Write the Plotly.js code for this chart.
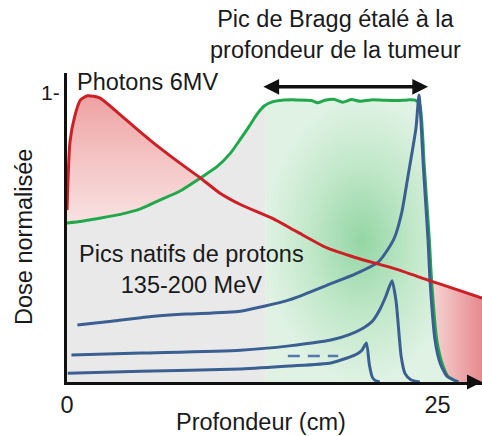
<!DOCTYPE html>
<html>
<head>
<meta charset="utf-8">
<script src="https://cdn.plot.ly/plotly-3.0.1.min.js"></script>
<style>html,body{margin:0;padding:0;background:#fff;}#chart{width:482px;height:436px;}</style>
</head>
<body>
<div id="chart"></div>
<script>
// ---- Data ----
const xTickVals = [0, 25];
const xTickText = ['0', '25'];
const yTickVals = [1];
const yTickText = ['1-'];

// Photons 6MV depth-dose curve
const redX = [0, 0.2, 0.5, 0.9, 1.4, 2.2, 3.6, 5.6, 7.6, 9.0, 10.3, 11.7, 13.9, 15.5, 17.5, 19.5, 22.1, 24.5, 26.0, 28.0];
const redY = [0.595, 0.83, 0.915, 0.975, 0.99, 0.983, 0.924, 0.837, 0.758, 0.706, 0.654, 0.614, 0.565, 0.52, 0.465, 0.43, 0.392, 0.35, 0.325, 0.29];

// Spread-out Bragg peak
const greenX = [0, 1, 2, 3.6, 5, 6.3, 7.6, 9.0, 10.1, 11.0, 11.7, 12.3, 12.8, 13.3, 13.9, 14.5, 15.5, 16.5, 16.9, 17.4, 18.0, 18.6, 19.2, 19.8, 20.5, 21.3, 22.2, 23.0, 23.5, 23.8, 24.1, 24.45, 24.6, 24.95, 25.3, 25.7, 26.4];
const greenY = [0.55, 0.556, 0.565, 0.58, 0.6, 0.63, 0.66, 0.706, 0.744, 0.79, 0.84, 0.885, 0.925, 0.955, 0.97, 0.975, 0.976, 0.974, 0.966, 0.975, 0.978, 0.968, 0.977, 0.971, 0.976, 0.975, 0.974, 0.976, 0.975, 0.96, 0.75, 0.49, 0.35, 0.145, 0.066, 0.02, 0];

// Native proton Bragg peaks (135-200 MeV)
const blue1X = [0.7, 3, 5.4, 8, 11.7, 15.0, 17.8, 19.5, 21.0, 21.6, 22.1, 22.6, 23.0, 23.3, 23.55, 23.75, 24.05, 24.36, 24.49, 24.83, 25.17, 25.64, 26.4];
const blue1Y = [0.197, 0.21, 0.225, 0.235, 0.245, 0.284, 0.34, 0.375, 0.415, 0.455, 0.5, 0.59, 0.71, 0.80, 0.88, 0.993, 0.74, 0.49, 0.353, 0.145, 0.066, 0.02, 0];
const blue2X = [0.3, 5, 11.7, 15.0, 17.8, 19.0, 20.0, 20.6, 21.1, 21.5, 21.93, 22.2, 22.55, 22.8, 23.2, 23.8];
const blue2Y = [0.093, 0.1, 0.11, 0.125, 0.145, 0.163, 0.187, 0.21, 0.25, 0.295, 0.35, 0.28, 0.087, 0.03, 0.008, 0];
const blue3X = [0.05, 5, 11.7, 15.0, 17.8, 18.9, 19.5, 19.9, 20.2, 20.4, 20.6, 20.8, 21.1];
const blue3Y = [0.03, 0.037, 0.045, 0.055, 0.066, 0.083, 0.095, 0.11, 0.135, 0.06, 0.017, 0.005, 0];
const dashX = [14.9, 18.3];
const dashY = [0.09, 0.09];

// Region limits
const greyEndX = 13.4;          // end of the grey (healthy tissue) zone
const arrowX = [13.15, 24.36];  // spread-out Bragg peak extent
const arrowY = 1.021;

// ---- helpers ----
function interp(xs, ys, x) {
  if (x <= xs[0]) return ys[0];
  for (let i = 1; i < xs.length; i++) {
    if (x <= xs[i]) {
      const t = (x - xs[i-1]) / (xs[i] - xs[i-1]);
      return ys[i-1] + t * (ys[i] - ys[i-1]);
    }
  }
  return ys[ys.length-1];
}
function crossing(x0, x1) {
  let prev = interp(redX, redY, x0) - interp(greenX, greenY, x0);
  for (let x = x0 + 0.005; x <= x1; x += 0.005) {
    const d = interp(redX, redY, x) - interp(greenX, greenY, x);
    if ((d > 0) !== (prev > 0)) return [x, interp(redX, redY, x)];
    prev = d;
  }
  return [x1, interp(redX, redY, x1)];
}
function seg(xs, ys, lo, hi) {
  const ox = [], oy = [];
  xs.forEach((x, i) => { if (x > lo && x < hi) { ox.push(x); oy.push(ys[i]); } });
  return [ox, oy];
}

const c1 = crossing(5, 12);
const c2 = crossing(24, 26.5);
const gSplit = interp(greenX, greenY, greyEndX);

// grey fill
let [gx1, gy1] = seg(greenX, greenY, -1, greyEndX);
gx1 = gx1.concat([greyEndX]); gy1 = gy1.concat([gSplit]);
// green fill
let [gx2, gy2] = seg(greenX, greenY, greyEndX, 99);
gx2 = [greyEndX].concat(gx2); gy2 = [gSplit].concat(gy2);
// red left fill (between red and green)
let [rlLx, rlLy] = seg(greenX, greenY, -1, c1[0]);
rlLx = rlLx.concat([c1[0]]); rlLy = rlLy.concat([c1[1]]);
let [rlUx, rlUy] = seg(redX, redY, -1, c1[0]);
rlUx = rlUx.concat([c1[0]]); rlUy = rlUy.concat([c1[1]]);
// red right fill
let [rrLx, rrLy] = seg(greenX, greenY, c2[0], 99);
rrLx = [c2[0]].concat(rrLx, [redX[redX.length-1]]); rrLy = [c2[1]].concat(rrLy, [0]);
let [rrUx, rrUy] = seg(redX, redY, c2[0], 99);
rrUx = [c2[0]].concat(rrUx); rrUy = [c2[1]].concat(rrUy);
if (rrUx[rrUx.length-1] < redX[redX.length-1]) { rrUx.push(redX[redX.length-1]); rrUy.push(redY[redY.length-1]); }

const sp = {shape: 'spline', smoothing: 0.6};
const traces = [
  {x: gx1, y: gy1, mode: 'lines', line: Object.assign({width: 0}, sp), fill: 'tozeroy', fillcolor: '#e9e9e9', hoverinfo: 'skip'},
  {x: gx2, y: gy2, mode: 'lines', line: Object.assign({width: 0}, sp), fill: 'tozeroy',
   fillgradient: {type: 'radial', colorscale: [[0, '#94d6a4'], [0.55, '#c2e8ca'], [1, '#dff2e3']]}, hoverinfo: 'skip'},
  {x: rlLx, y: rlLy, mode: 'lines', line: Object.assign({width: 0}, sp), hoverinfo: 'skip'},
  {x: rlUx, y: rlUy, mode: 'lines', line: Object.assign({width: 0}, sp), fill: 'tonexty',
   fillgradient: {type: 'vertical', colorscale: [[0, '#f9e2e2'], [0.5, '#f4c4c4'], [1, '#eda2a2']]}, hoverinfo: 'skip'},
  {x: rrLx, y: rrLy, mode: 'lines', line: Object.assign({width: 0}, sp), hoverinfo: 'skip'},
  {x: rrUx, y: rrUy, mode: 'lines', line: Object.assign({width: 0}, sp), fill: 'tonexty',
   fillgradient: {type: 'horizontal', colorscale: [[0, '#f6d4d4'], [1, '#e68a8d']]}, hoverinfo: 'skip'},
  {x: greenX, y: greenY, mode: 'lines', line: Object.assign({color: '#22a84c', width: 3}, sp), name: 'SOBP'},
  {x: dashX, y: dashY, mode: 'lines', line: {color: '#5578b0', width: 2.5, dash: '12px,8px'}, name: '...'},
  {x: blue3X, y: blue3Y, mode: 'lines', line: Object.assign({color: '#3c5f92', width: 3}, sp), name: 'p1'},
  {x: blue2X, y: blue2Y, mode: 'lines', line: Object.assign({color: '#3c5f92', width: 3}, sp), name: 'p2'},
  {x: blue1X, y: blue1Y, mode: 'lines', line: Object.assign({color: '#3c5f92', width: 3}, sp), name: 'p3'},
  {x: redX, y: redY, mode: 'lines', line: Object.assign({color: '#cc1f26', width: 3}, sp), name: 'Photons 6MV'}
];

const F = 'Liberation Sans, Arial, sans-serif';
const FS = 23.5;
const layout = {
  width: 482, height: 436,
  margin: {l: 67, r: 0, t: 73, b: 54, pad: 0},
  paper_bgcolor: '#ffffff', plot_bgcolor: '#ffffff',
  showlegend: false,
  font: {family: F, color: '#1a1a1a', size: FS},
  xaxis: {range: [0, 28], showline: true, linecolor: '#111', linewidth: 3, showgrid: false, zeroline: false,
          tickvals: xTickVals, ticktext: xTickText, ticks: '', tickfont: {size: FS, color: '#1a1a1a'}, fixedrange: true},
  yaxis: {range: [0, 1.069], showline: true, linecolor: '#111', linewidth: 3, showgrid: false, zeroline: false,
          tickvals: yTickVals, ticktext: yTickText, ticks: '', tickfont: {size: 21, color: '#1a1a1a'}, fixedrange: true},
  annotations: [
    {xref: 'x', yref: 'y', x: arrowX[1], y: arrowY, axref: 'x', ayref: 'y', ax: arrowX[0], ay: arrowY,
     text: '', showarrow: true, arrowside: 'end+start', arrowhead: 2, startarrowhead: 2, arrowsize: 0.9, startarrowsize: 0.9,
     arrowwidth: 3.5, arrowcolor: '#111', standoff: 0, startstandoff: 0},
    {xref: 'x', yref: 'y', x: 28, y: 0, axref: 'x', ayref: 'y', ax: 27, ay: 0, text: '', showarrow: true,
     arrowhead: 2, arrowsize: 1, arrowwidth: 3, arrowcolor: '#111', standoff: 0},
    {xref: 'paper', yref: 'paper', x: 0.646, y: 1.123, xanchor: 'center', yanchor: 'middle', showarrow: false,
     text: 'Pic de Bragg étalé à la<br>profondeur de la tumeur', font: {size: FS}},
    {xref: 'x', yref: 'y', x: 0.55, y: 1.038, xanchor: 'left', yanchor: 'middle', showarrow: false,
     text: 'Photons 6MV', font: {size: FS}},
    {xref: 'x', yref: 'y', x: 8.43, y: 0.388, xanchor: 'center', yanchor: 'middle', showarrow: false,
     text: 'Pics natifs de protons<br>135-200 MeV', font: {size: FS}},
    {xref: 'paper', yref: 'paper', x: 0.467, y: -0.129, xanchor: 'center', yanchor: 'middle', showarrow: false,
     text: 'Profondeur (cm)', font: {size: FS}},
    {xref: 'paper', yref: 'paper', x: -0.104, y: 0.469, xanchor: 'center', yanchor: 'middle', showarrow: false,
     text: 'Dose normalisée', textangle: -90, font: {size: FS}}
  ]
};
Plotly.newPlot('chart', traces, layout, {staticPlot: true, displayModeBar: false});
</script>
</body>
</html>
